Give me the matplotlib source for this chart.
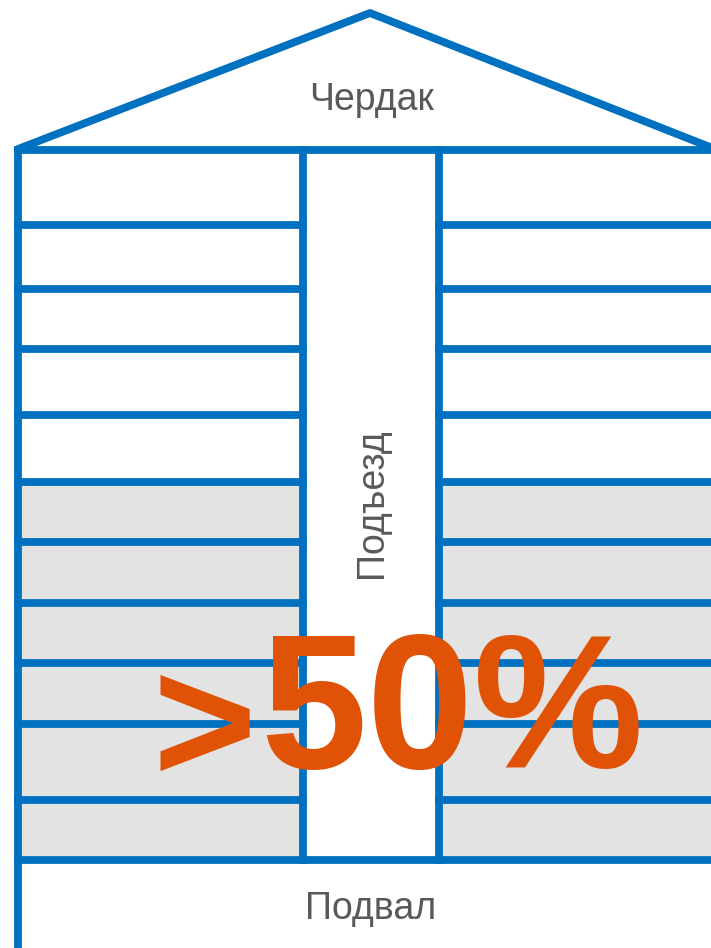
import matplotlib.pyplot as plt
from matplotlib.patches import Rectangle

# Labels
attic_label = "Чердак"
entrance_label = "Подъезд"
basement_label = "Подвал"
share_sign = ">"
share_value = "50%"

# Floor boundaries (top of house -> basement)
floor_edges = [150, 225, 289, 349, 415, 482, 542, 603, 663, 724, 800, 860]
gray_floors = 6  # lower floors that are shaded

# House outline
roof_x = [18, 370, 715]
roof_y = [149, 13, 149]
wall_left, stair_left, stair_right, wall_right = 18, 303, 439, 721
house_bottom = 948

blue = "#0070c0"
gray_fill = "#e3e3e3"
text_gray = "#595959"
orange = "#e05206"
lw = 5.6
font = "Liberation Sans"

fig = plt.figure(figsize=(7.11, 9.48), dpi=100)
ax = fig.add_axes([0, 0, 1, 1])
ax.set_xlim(0, 711)
ax.set_ylim(948, 0)
ax.axis("off")

# Shaded floors
gray_top = floor_edges[-1 - gray_floors]
for x0, x1 in [(wall_left, stair_left), (stair_right, wall_right)]:
    ax.add_patch(Rectangle((x0, gray_top), x1 - x0, floor_edges[-1] - gray_top,
                           facecolor=gray_fill, edgecolor="none", zorder=1))

# Roof
ax.plot(roof_x, roof_y, color=blue, lw=lw, solid_capstyle="round",
        solid_joinstyle="round", zorder=3)

# Walls and staircase
ax.plot([wall_left, wall_left], [floor_edges[0], house_bottom], color=blue, lw=lw, zorder=3)
for x in [stair_left, stair_right]:
    ax.plot([x, x], [floor_edges[0], floor_edges[-1]], color=blue, lw=lw, zorder=3)

# Full-width lines: top ceiling and basement ceiling
for y in [floor_edges[0], floor_edges[-1]]:
    ax.plot([wall_left, wall_right], [y, y], color=blue, lw=lw, zorder=3)

# Floor lines on both sides
for y in floor_edges[1:-1]:
    ax.plot([wall_left, stair_left], [y, y], color=blue, lw=lw, zorder=3)
    ax.plot([stair_right, wall_right], [y, y], color=blue, lw=lw, zorder=3)

# Texts
ax.text(372, 110, attic_label, fontsize=27, color=text_gray, family=font,
        ha="center", va="baseline", zorder=4)
ax.text(371, 919, basement_label, fontsize=27, color=text_gray, family=font,
        ha="center", va="baseline", zorder=4)
ax.text(372, 503, entrance_label, fontsize=27, color=text_gray, family=font,
        rotation=90, ha="center", va="center", zorder=4)
ax.text(204, 736, share_sign, fontsize=128, color=orange, family=font,
        fontweight="bold", ha="center", va="center", zorder=5)
ax.text(452, 768, share_value, fontsize=138, color=orange, family=font,
        fontweight="bold", ha="center", va="baseline", zorder=5)

fig.savefig("out.png", dpi=100)
